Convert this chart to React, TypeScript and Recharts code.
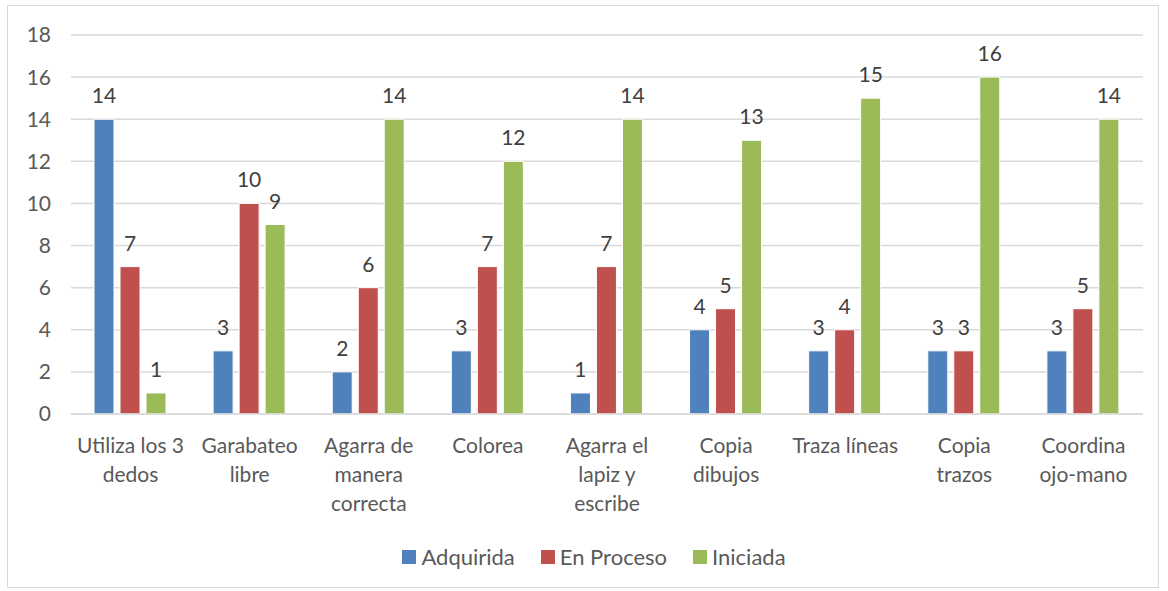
import { Bar, BarChart, CartesianGrid, LabelList, Legend, XAxis, YAxis } from 'recharts'

const categories = [
  'Utiliza los 3\ndedos',
  'Garabateo\nlibre',
  'Agarra de\nmanera\ncorrecta',
  'Colorea',
  'Agarra el\nlapiz y\nescribe',
  'Copia\ndibujos',
  'Traza líneas',
  'Copia\ntrazos',
  'Coordina\nojo-mano',
]

const adquirida = [14, 3, 2, 3, 1, 4, 3, 3, 3]
const enProceso = [7, 10, 6, 7, 7, 5, 4, 3, 5]
const iniciada = [1, 9, 14, 12, 14, 13, 15, 16, 14]

const yTicks = [0, 2, 4, 6, 8, 10, 12, 14, 16, 18]

const series = [
  { key: 'adquirida', name: 'Adquirida', color: '#4F81BD' },
  { key: 'enProceso', name: 'En Proceso', color: '#C0504D' },
  { key: 'iniciada', name: 'Iniciada', color: '#9BBB59' },
]

const data = categories.map((name, i) => ({
  name,
  adquirida: adquirida[i],
  enProceso: enProceso[i],
  iniciada: iniciada[i],
}))

const textColor = '#595959'
const font = 'Lato, Calibri, sans-serif'

function CategoryTick({ x, y, payload }: any) {
  const lines = String(payload.value).split('\n')
  return (
    <text x={x} y={y} textAnchor="middle" fill={textColor} fontSize={21} fontFamily={font}>
      {lines.map((line, i) => (
        <tspan key={i} x={x} dy={i === 0 ? 31 : 29}>
          {line}
        </tspan>
      ))}
    </text>
  )
}

function ChartLegend() {
  return (
    <div
      style={{
        display: 'flex',
        justifyContent: 'center',
        gap: 26,
        fontFamily: font,
        fontSize: 22,
        color: textColor,
        paddingLeft: 20,
      }}
    >
      {series.map((s) => (
        <span key={s.key} style={{ display: 'flex', alignItems: 'center', gap: 5 }}>
          <span style={{ width: 14, height: 14, background: s.color, display: 'inline-block' }} />
          {s.name}
        </span>
      ))}
    </div>
  )
}

export default function App() {
  return (
    <div style={{ position: 'absolute', left: 0, top: 0, width: 1168, height: 591, background: '#fff' }}>
      <div
        style={{
          position: 'absolute',
          left: 7,
          top: 5,
          width: 1152,
          height: 583,
          border: '1px solid #d9d9d9',
          boxSizing: 'border-box',
        }}
      />
      <div style={{ position: 'absolute', left: 0, top: 0 }}>
        <BarChart
          width={1168}
          height={591}
          data={data}
          margin={{ top: 35, right: 25, bottom: 0, left: 21 }}
          barCategoryGap={23}
          barGap={6}
        >
          <CartesianGrid vertical={false} stroke="#d9d9d9" strokeWidth={1.5} />
          <XAxis
            dataKey="name"
            interval={0}
            tickLine={false}
            axisLine={{ stroke: '#d9d9d9', strokeWidth: 1.5 }}
            tick={<CategoryTick />}
            height={150}
          />
          <YAxis
            width={50}
            domain={[0, 18]}
            ticks={yTicks}
            interval={0}
            axisLine={false}
            tickLine={false}
            tick={{ fill: textColor, fontSize: 21, fontFamily: font }}
            tickMargin={14}
          />
          <Legend
            content={<ChartLegend />}
            wrapperStyle={{ position: 'absolute', left: 0, top: 543, width: 1168 }}
          />
          {series.map((s) => (
            <Bar
              key={s.key}
              dataKey={s.key}
              name={s.name}
              fill={s.color}
              stroke="#ffffff"
              strokeWidth={1}
              isAnimationActive={false}
            >
              <LabelList
                dataKey={s.key}
                position="top"
                offset={16}
                fill="#404040"
                fontSize={21}
                fontFamily={font}
              />
            </Bar>
          ))}
        </BarChart>
      </div>
    </div>
  )
}
